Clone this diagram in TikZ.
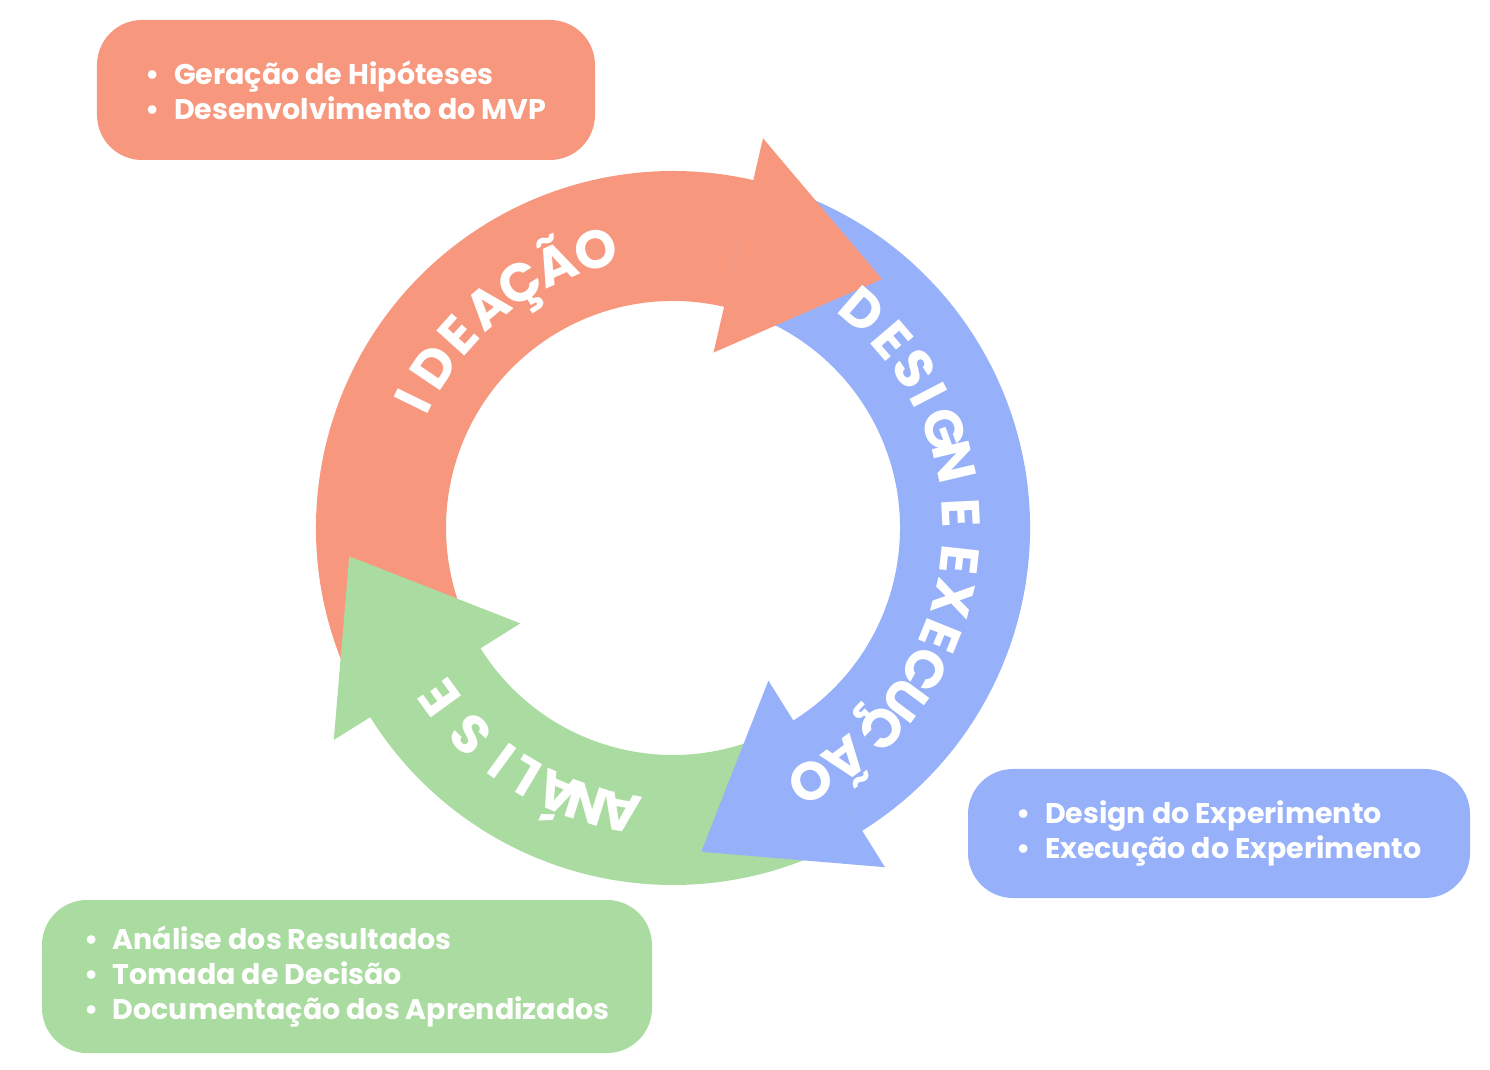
\documentclass[tikz,border=0pt]{standalone}
\usepackage{fontspec}
\setmainfont{Poppins}
\usetikzlibrary{calc}
\definecolor{ideacao}{HTML}{F7987E}
\definecolor{design}{HTML}{96B0FA}
\definecolor{analise}{HTML}{AADBA0}

\begin{document}
\begin{tikzpicture}
    \tikzset{infobox/.style={rounded corners=0.9cm, inner xsep=0.8cm, align=left, text=white, font=\bfseries\fontsize{16.2}{19.8}\selectfont}}
    \tikzset{ringletter/.style={text=white, anchor=base, inner sep=0pt, font=\bfseries\fontsize{30.5}{30.5}\selectfont}}
    \useasboundingbox (-13.46, -10.84) rectangle (16.34, 10.56);
    % ring bodies first, heads on top
    \foreach \sa/\ea/\col in {212/77/ideacao, 77/-58/design, -58/-148/analise} {
        \fill[\col] (\sa:7.14) arc[start angle=\sa, end angle=\ea-1, radius=7.14]
            -- (\ea-1:4.54) arc[start angle=\ea-1, end angle=\sa, radius=4.54] -- cycle;
    }
    \foreach \b/\col in {77/ideacao, -58/design, 212/analise} {
        \fill[\col] (\b:8.0) -- (\b-27:6.5) -- (\b:3.6) -- cycle;
    }
    \foreach \ch/\a [count=\i] in {I/154, D/146, E/138, A/130, Ç/122, Ã/114, O/105.5} {
        \node[ringletter, rotate=\a-90] (ide\i) at (\a:5.4) {\ch};
    }
    \foreach \ch/\a [count=\i] in {D/49, E/40.6, S/33.4, I/27.5, G/19.9, N/13.2, E/2.9, E/-6.3, X/-14.2, E/-22, C/-29.4, U/-36.6, Ç/-43.8, Ã/-53.3, O/-61.4} {
        \node[ringletter, rotate=\a-90] (des\i) at (\a:5.4) {\ch};
    }
    \foreach \ch/\a [count=\i] in {A/-100.5, N/-107.4, Á/-113.6, L/-120.8, I/-126.2, S/-134.4, E/-144} {
        \node[ringletter, rotate=\a-90] (ana\i) at (\a:5.4) {\ch};
    }
    \node[infobox, fill=ideacao, minimum width=9.96cm, minimum height=2.8cm] (ideacaobox) at (-6.54, 8.76)
        {•\hspace{0.5em}Geração de Hipóteses\\ •\hspace{0.5em}Desenvolvimento do MVP};
    \node[infobox, fill=design, minimum width=10.04cm, minimum height=2.58cm] (designbox) at (10.92, -6.11)
        {•\hspace{0.5em}Design do Experimento\\ •\hspace{0.5em}Execução do Experimento};
    \node[infobox, fill=analise, minimum width=12.2cm, minimum height=3.06cm] (analisebox) at (-6.52, -8.97)
        {•\hspace{0.5em}Análise dos Resultados\\ •\hspace{0.5em}Tomada de Decisão\\ •\hspace{0.5em}Documentação dos Aprendizados};
\end{tikzpicture}
\end{document}
